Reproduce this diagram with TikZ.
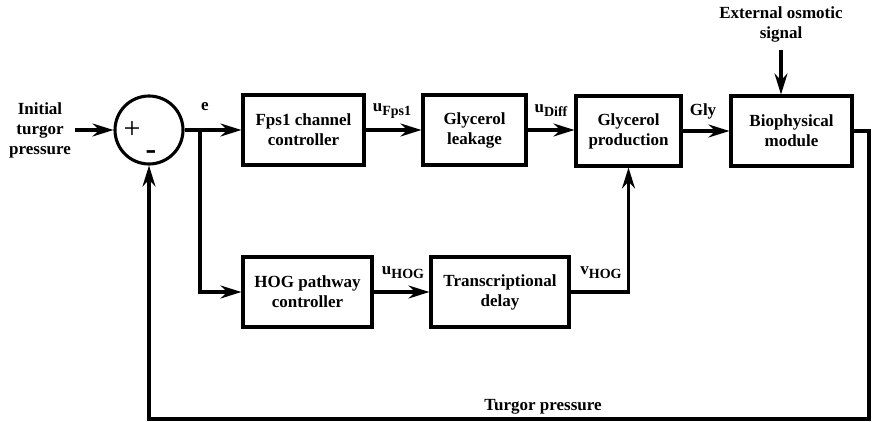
\documentclass[tikz,border=0pt]{standalone}
\usepackage{fontspec}
\setmainfont{Liberation Serif}
\usetikzlibrary{arrows.meta}
\newcommand\sublab[2]{#1\raisebox{-4pt}{\fontsize{14}{14}\selectfont #2}}
\begin{document}
\begin{tikzpicture}[x=1pt,y=-1pt,
  every node/.style={font=\bfseries\fontsize{17}{20}\selectfont, align=center, inner sep=0pt},
  blk/.style={draw, line width=3.1pt, minimum height=70pt},
  conn/.style={line width=3.1pt, line join=miter, -{Stealth[length=21pt,width=13pt,inset=7pt]}},
  ln/.style={line width=3.1pt}]
\useasboundingbox (0,0) rectangle (872,422);
% blocks
\node[draw, circle, line width=3.1pt, minimum size=68pt] (sum) at (149,130) {};
\node[font=\fontsize{30}{30}\selectfont] (plus) at (132,130) {+};
\node[font=\bfseries\fontsize{32}{32}\selectfont] (minus) at (151,155) {-};
\node (init) at (40,130) {Initial\\turgor\\pressure};
\node[blk, minimum width=121pt] (fps) at (303.5,130) {Fps1 channel\\controller};
\node[blk, minimum width=103pt] (leak) at (474.5,130) {Glycerol\\leakage};
\node[blk, minimum width=105pt] (prod) at (628.5,131) {Glycerol\\production};
\node[blk, minimum width=121pt] (bio) at (791.5,131) {Biophysical\\module};
\node[blk, minimum width=129pt] (hog) at (307.5,292) {HOG pathway\\controller};
\node[blk, minimum width=138pt] (delay) at (500,292) {Transcriptional\\delay};
\node (ext) at (781,24) {External osmotic\\signal};
% labels
\node (le) at (205,107) {e};
\node (lfps) at (392,111) {\sublab{u}{Fps1}};
\node (ldiff) at (551,111) {\sublab{u}{Diff}};
\node (lgly) at (703,111) {Gly};
\node (lhog) at (403,273) {\sublab{u}{HOG}};
\node (lvhog) at (601,273) {\sublab{v}{HOG}};
\node (ltp) at (543,407) {Turgor pressure};
% coordinates
\coordinate (j) at (200,130);
\coordinate (r1) at (869,131);
\coordinate (r2) at (869,419);
\coordinate (l1) at (149,419);
% connectors
\draw[conn, shorten <=4pt] (init.east) -- (sum.west);
\draw[conn] (sum.east) -- (fps.west);
\draw[conn] (j) |- (hog.west);
\draw[conn] (fps.east) -- (leak.west);
\draw[conn] (leak.east) -- (prod.west |- leak.east);
\draw[conn] (prod.east) -- (bio.west);
\draw[conn] (hog.east) -- (delay.west);
\draw[conn] (delay.east) -| (prod.south);
\draw[conn, shorten <=8pt] (ext.south) -- (ext.south |- bio.north);
\draw[conn] (bio.east) -- (r1) -- (r2) -- (l1) -- (sum.south);
\end{tikzpicture}
\end{document}
